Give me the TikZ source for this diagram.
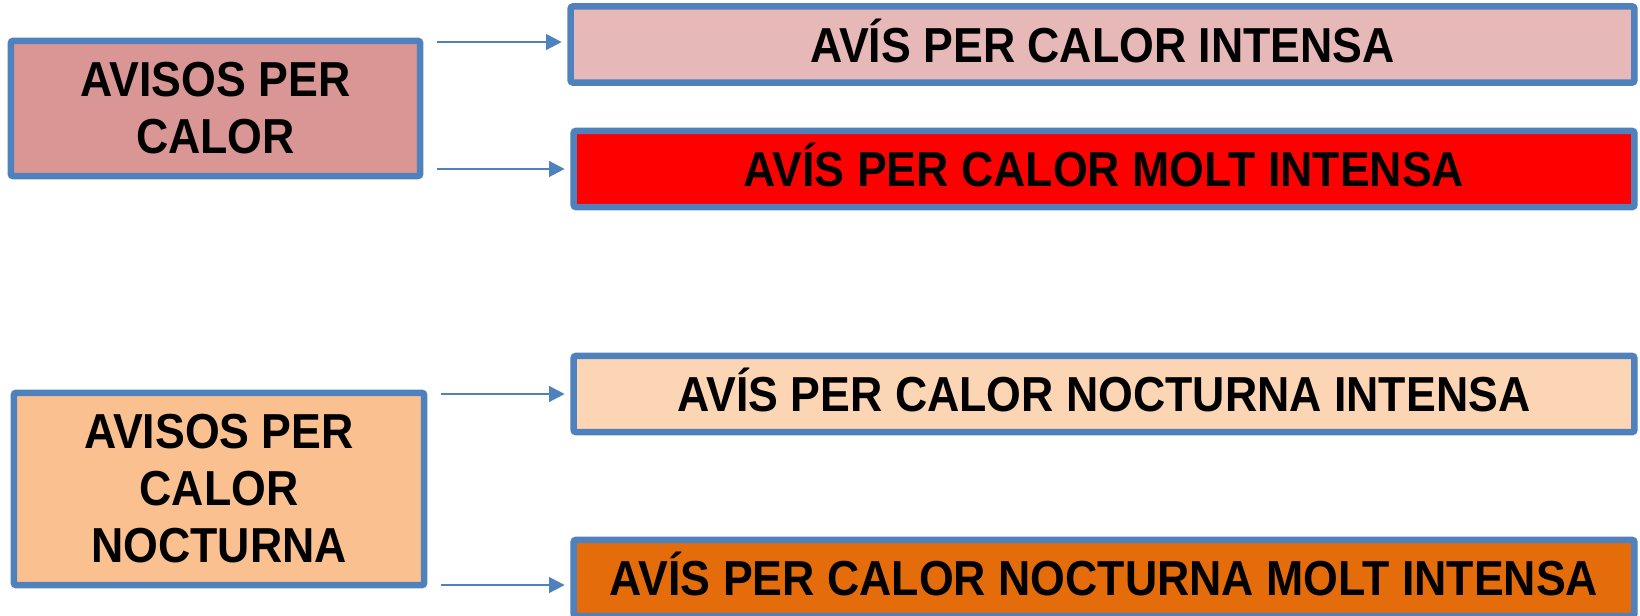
\documentclass[tikz,border=0pt]{standalone}
\usepackage{fontspec}
\setmainfont{Liberation Sans}
\usetikzlibrary{arrows.meta}
\definecolor{rand}{HTML}{4F81BD}
\definecolor{rosa}{HTML}{D99694}
\definecolor{rosaclar}{HTML}{E6B9B8}
\definecolor{vermell}{HTML}{FF0000}
\definecolor{taronja}{HTML}{FAC090}
\definecolor{taronjaclar}{HTML}{FCD5B5}
\definecolor{taronjafosc}{HTML}{E46C0A}
\newcommand{\hoch}[1]{\scalebox{1}[1.1]{#1}}
\begin{document}
\begin{tikzpicture}[x=0.01cm, y=-0.01cm,
	box/.style={draw=rand, line width=1.85pt, rounded corners=0.6pt, inner sep=0pt, outer sep=0pt,
		font=\bfseries\fontsize{12.7}{16.2}\selectfont, align=center},
	bar/.style={box, minimum width=10.6cm, minimum height=0.76cm, text height=10pt, text depth=0pt},
	arrow/.style={draw=rand, line width=0.65pt, -{Triangle[length=4.4pt,width=4.4pt]},
		shorten <=0.17cm, shorten >=0.09cm}]
	\useasboundingbox (0,0) rectangle (1640,616);
	\clip (0,0) rectangle (1640,616);

	%Avisos per calor
	\node[box, fill=rosa, minimum width=4.09cm, minimum height=1.35cm] (A) at (215.5,108.5) {\hoch{AVISOS PER}\\\hoch{CALOR}};
	\node[bar, fill=rosaclar, minimum width=10.63cm] (a1) at (1102.5,44.5) {\hoch{AVÍS PER CALOR INTENSA}};
	\node[bar, fill=vermell] (a2) at (1104,169) {\hoch{AVÍS PER CALOR MOLT INTENSA}};

	%Avisos per calor nocturna
	\node[box, fill=taronja, minimum width=4.10cm, minimum height=1.92cm] (B) at (219,489) {\hoch{AVISOS PER}\\\hoch{CALOR}\\\hoch{NOCTURNA}};
	\node[bar, fill=taronjaclar] (b1) at (1104,394) {\hoch{AVÍS PER CALOR NOCTURNA INTENSA}};
	\node[bar, fill=taronjafosc] (b2) at (1104,578) {\hoch{AVÍS PER CALOR NOCTURNA MOLT INTENSA}};

	%Pfeile
	\draw[arrow] ([yshift=0.7pt]A.east |- a1.west) -- ([yshift=0.7pt]a1.west);
	\draw[arrow] (A.east |- a2.west) -- (a2.west);
	\draw[arrow] (B.east |- b1.west) -- (b1.west);
	\draw[arrow] ([yshift=-2pt]B.east |- b2.west) -- ([yshift=-2pt]b2.west);
\end{tikzpicture}
\end{document}
